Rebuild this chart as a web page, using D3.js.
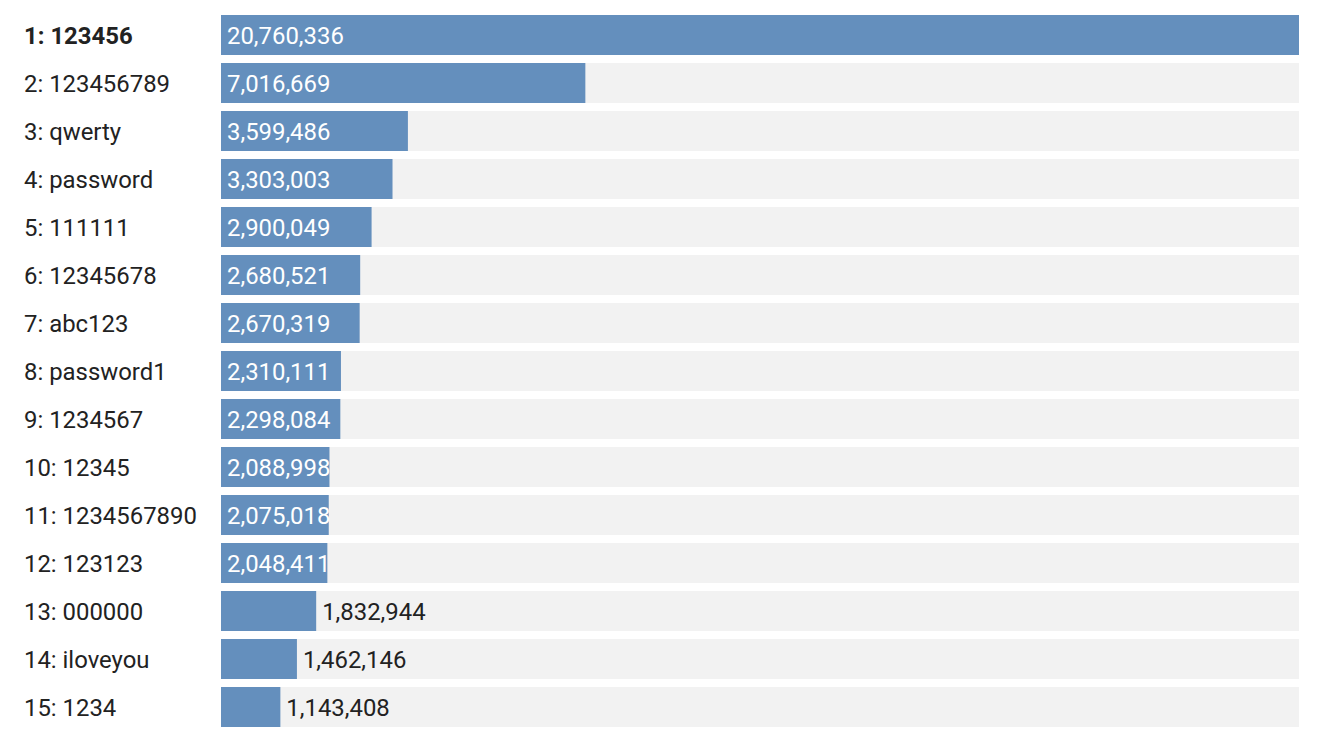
<!DOCTYPE html>
<html>
<head>
<meta charset="utf-8">
<script src="https://cdn.jsdelivr.net/npm/d3@7"></script>
<style>
  body { margin: 0; background: #fff; }
  svg text { font-family: Roboto, sans-serif; font-size: 23.9px; }
</style>
</head>
<body>
<svg width="1320" height="733"></svg>
<script>
'use strict';

var passwords = ['123456', '123456789', 'qwerty', 'password', '111111', '12345678', 'abc123',
    'password1', '1234567', '12345', '1234567890', '123123', '000000', 'iloveyou', '1234'];
var counts = [20760336, 7016669, 3599486, 3303003, 2900049, 2680521, 2670319,
    2310111, 2298084, 2088998, 2075018, 2048411, 1832944, 1462146, 1143408];

var data = passwords.map(function(p, i) {
    return {rank: i + 1, name: p, count: counts[i]};
});

var svg = d3.select('svg'),
    barLeft = 221,
    barRight = 1299,
    marginTop = 15,
    rowStep = 48,
    gap = 8;

var x = d3.scaleLinear()
    .domain([0, d3.max(counts)])
    .range([0, barRight - barLeft]);

var y = d3.scaleBand()
    .domain(data.map(function(d) { return d.rank; }))
    .range([marginTop, marginTop + rowStep * data.length - gap])
    .paddingInner(gap / rowStep)
    .paddingOuter(0);

var fmt = d3.format(',');

var rows = svg.selectAll('.row')
    .data(data)
    .enter()
    .append('g')
    .attr('class', 'row')
    .attr('transform', function(d) { return 'translate(0,' + y(d.rank) + ')'; });

// background track
rows.append('rect')
    .attr('x', barLeft)
    .attr('width', barRight - barLeft)
    .attr('height', y.bandwidth())
    .attr('fill', '#f2f2f2');

rows.append('rect')
    .attr('x', barLeft)
    .attr('width', function(d) { return x(d.count); })
    .attr('height', y.bandwidth())
    .attr('fill', '#648fbd');

rows.append('text')
    .attr('x', 24)
    .attr('y', y.bandwidth() / 2 + 8.7)
    .attr('fill', '#222')
    .attr('font-weight', function(d) { return d.rank === 1 ? 'bold' : 'normal'; })
    .text(function(d) { return d.rank + ': ' + d.name; });

// value labels: inside the bar when it is wide enough
rows.append('text')
    .attr('x', function(d) {
        return x(d.count) > 100 ? barLeft + 6 : barLeft + x(d.count) + 6;
    })
    .attr('y', y.bandwidth() / 2 + 8.7)
    .attr('fill', function(d) { return x(d.count) > 100 ? '#fff' : '#222'; })
    .text(function(d) { return fmt(d.count); });
</script>
</body>
</html>
